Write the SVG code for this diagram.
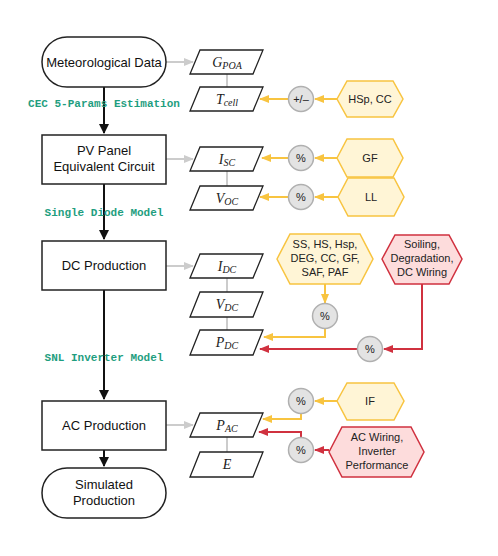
<svg xmlns="http://www.w3.org/2000/svg" width="498" height="556" viewBox="0 0 498 556">
<defs>
<style>
.node{fill:#fff;stroke:#222;stroke-width:1.5}
.t{font-family:"Liberation Sans",Arial,sans-serif;font-size:13px;fill:#111;text-anchor:middle}
.ht{font-family:"Liberation Sans",Arial,sans-serif;font-size:11px;fill:#222;text-anchor:middle}
.m{font-family:"Liberation Serif","Times New Roman",serif;font-style:italic;font-size:14px;fill:#222;text-anchor:middle}
.sub{font-size:10px}
.lbl{font-family:"Liberation Mono","Courier New",monospace;font-weight:bold;font-size:11px;fill:#1f9e7f;text-anchor:middle}
.para{fill:#fff;stroke:#222;stroke-width:1.3}
.yh{fill:#fff5d6;stroke:#f8c440;stroke-width:1.5}
.rh{fill:#fddcdc;stroke:#d0313f;stroke-width:1.5}
.circ{fill:#e3e3e3;stroke:#b0b0b0;stroke-width:1.5}
.ct{font-family:"Liberation Sans",Arial,sans-serif;font-size:11px;fill:#222;text-anchor:middle}
.blk{stroke:#111;stroke-width:2;fill:none}
.gry{stroke:#cccccc;stroke-width:2;fill:none}
.ylw{stroke:#f8c440;stroke-width:2;fill:none}
.red{stroke:#d0313f;stroke-width:2;fill:none}
</style>
<marker id="ab" viewBox="0 0 10 10" refX="9" refY="5" markerWidth="5" markerHeight="5" orient="auto" markerUnits="strokeWidth"><path d="M0,0 L10,5 L0,10 z" fill="#111"/></marker>
<marker id="ag" viewBox="0 0 10 10" refX="9" refY="5" markerWidth="5" markerHeight="5" orient="auto" markerUnits="strokeWidth"><path d="M0,1 L10,5 L0,9 z" fill="#cccccc"/></marker>
<marker id="ay" viewBox="0 0 10 10" refX="9" refY="5" markerWidth="5" markerHeight="5" orient="auto" markerUnits="strokeWidth"><path d="M0,1 L10,5 L0,9 z" fill="#f8c440"/></marker>
<marker id="ar" viewBox="0 0 10 10" refX="9" refY="5" markerWidth="5" markerHeight="5" orient="auto" markerUnits="strokeWidth"><path d="M0,1 L10,5 L0,9 z" fill="#d0313f"/></marker>
</defs>
<rect width="498" height="556" fill="#fff"/>

<g id="connectors">
<line class="blk" x1="104" y1="87" x2="104" y2="133" marker-end="url(#ab)"/>
<line class="blk" x1="104" y1="184" x2="104" y2="239" marker-end="url(#ab)"/>
<line class="blk" x1="104" y1="290" x2="104" y2="399" marker-end="url(#ab)"/>
<line class="blk" x1="104" y1="450" x2="104" y2="466" marker-end="url(#ab)"/>
<line class="gry" x1="166" y1="62" x2="193" y2="62" marker-end="url(#ag)"/>
<line class="gry" x1="166" y1="159" x2="193" y2="159" marker-end="url(#ag)"/>
<line class="gry" x1="166" y1="266" x2="193" y2="266" marker-end="url(#ag)"/>
<line class="gry" x1="166" y1="425" x2="193" y2="425" marker-end="url(#ag)"/>
<line class="gry" x1="227" y1="74" x2="227" y2="87"/>
<line class="gry" x1="227" y1="171" x2="227" y2="186"/>
<line class="gry" x1="227" y1="278" x2="227" y2="292"/>
<line class="gry" x1="227" y1="317" x2="227" y2="330"/>
<line class="gry" x1="227" y1="437" x2="227" y2="452"/>
<line class="ylw" x1="337" y1="99" x2="315" y2="99" marker-end="url(#ay)"/>
<line class="ylw" x1="288" y1="99" x2="260" y2="99" marker-end="url(#ay)"/>
<line class="ylw" x1="337" y1="158" x2="315" y2="158" marker-end="url(#ay)"/>
<line class="ylw" x1="288" y1="158" x2="262" y2="158" marker-end="url(#ay)"/>
<line class="ylw" x1="338" y1="197" x2="315" y2="197" marker-end="url(#ay)"/>
<line class="ylw" x1="288" y1="197" x2="260" y2="197" marker-end="url(#ay)"/>
<line class="ylw" x1="325" y1="284" x2="325" y2="303" marker-end="url(#ay)"/>
<polyline class="ylw" points="325,329 325,337 264,337" marker-end="url(#ay)"/>
<polyline class="red" points="422,284 422,349 384,349" marker-end="url(#ar)"/>
<line class="red" x1="357" y1="349" x2="260" y2="349" marker-end="url(#ar)"/>
<line class="ylw" x1="337" y1="401" x2="315" y2="401" marker-end="url(#ay)"/>
<polyline class="ylw" points="301,413 301,419 263,419" marker-end="url(#ay)"/>
<line class="red" x1="329" y1="450" x2="315" y2="450" marker-end="url(#ar)"/>
<polyline class="red" points="301,438 301,432 259,432" marker-end="url(#ar)"/>
</g>

<text class="lbl" x="104" y="107">CEC 5-Params Estimation</text>
<text class="lbl" x="104" y="216">Single Diode Model</text>
<text class="lbl" x="104" y="361">SNL Inverter Model</text>

<g id="met"><rect class="node" x="42" y="37" width="124" height="50" rx="25"/><text class="t" x="104" y="67">Meteorological Data</text></g>
<g id="pv"><rect class="node" x="42" y="135" width="124" height="49"/><text class="t" x="104" y="155">PV Panel</text><text class="t" x="104" y="171">Equivalent Circuit</text></g>
<g id="dc"><rect class="node" x="42" y="241" width="124" height="49"/><text class="t" x="104" y="270">DC Production</text></g>
<g id="ac"><rect class="node" x="42" y="401" width="124" height="49"/><text class="t" x="104" y="430">AC Production</text></g>
<g id="sim"><rect class="node" x="42" y="468" width="124" height="50" rx="25"/><text class="t" x="104" y="489">Simulated</text><text class="t" x="104" y="505">Production</text></g>

<g id="gpoa"><polygon class="para" points="200,50 263,50 253,74 190,74"/><text class="m" x="227" y="67">G<tspan class="sub" dy="2">POA</tspan></text></g>
<g id="tcell"><polygon class="para" points="200,87 263,87 253,111 190,111"/><text class="m" x="227" y="104">T<tspan class="sub" dy="2">cell</tspan></text></g>
<g id="isc"><polygon class="para" points="200,147 263,147 253,171 190,171"/><text class="m" x="227" y="164">I<tspan class="sub" dy="2">SC</tspan></text></g>
<g id="voc"><polygon class="para" points="200,186 263,186 253,210 190,210"/><text class="m" x="227" y="203">V<tspan class="sub" dy="2">OC</tspan></text></g>
<g id="idc"><polygon class="para" points="200,254 263,254 253,278 190,278"/><text class="m" x="227" y="271">I<tspan class="sub" dy="2">DC</tspan></text></g>
<g id="vdc"><polygon class="para" points="200,292 263,292 253,317 190,317"/><text class="m" x="227" y="309">V<tspan class="sub" dy="2">DC</tspan></text></g>
<g id="pdc"><polygon class="para" points="200,330 263,330 253,355 190,355"/><text class="m" x="227" y="347">P<tspan class="sub" dy="2">DC</tspan></text></g>
<g id="pac"><polygon class="para" points="200,413 263,413 253,437 190,437"/><text class="m" x="227" y="430">P<tspan class="sub" dy="2">AC</tspan></text></g>
<g id="e"><polygon class="para" points="200,452 263,452 253,477 190,477"/><text class="m" x="227" y="469">E</text></g>

<g id="c1"><circle class="circ" cx="301" cy="99" r="12.5"/><text class="ct" x="301" y="103">+/–</text></g>
<g id="c2"><circle class="circ" cx="301" cy="158" r="12.5"/><text class="ct" x="301" y="162">%</text></g>
<g id="c3"><circle class="circ" cx="301" cy="197" r="12.5"/><text class="ct" x="301" y="201">%</text></g>
<g id="c4"><circle class="circ" cx="325" cy="316" r="12.5"/><text class="ct" x="325" y="320">%</text></g>
<g id="c5"><circle class="circ" cx="370" cy="349" r="12.5"/><text class="ct" x="370" y="353">%</text></g>
<g id="c6"><circle class="circ" cx="301" cy="401" r="12.5"/><text class="ct" x="301" y="405">%</text></g>
<g id="c7"><circle class="circ" cx="301" cy="450" r="12.5"/><text class="ct" x="301" y="454">%</text></g>

<g id="hspcc"><polygon class="yh" points="337,99 347,81 393,81 403,99 393,117 347,117"/><text class="ht" x="370" y="103">HSp, CC</text></g>
<g id="gf"><polygon class="yh" points="337,158 347,139 393,139 403,158 393,177 347,177"/><text class="ht" x="370" y="162">GF</text></g>
<g id="ll"><polygon class="yh" points="338,197 348,178 394,178 404,197 394,216 348,216"/><text class="ht" x="371" y="201">LL</text></g>
<g id="ss"><polygon class="yh" points="277,259 290,234 360,234 373,259 360,284 290,284"/><text class="ht" x="325" y="248">SS, HS, Hsp,</text><text class="ht" x="325" y="262">DEG, CC, GF,</text><text class="ht" x="325" y="276">SAF, PAF</text></g>
<g id="soil"><polygon class="rh" points="382,259 395,235 449,235 462,259 449,284 395,284"/><text class="ht" x="422" y="248">Soiling,</text><text class="ht" x="422" y="262">Degradation,</text><text class="ht" x="422" y="276">DC Wiring</text></g>
<g id="if"><polygon class="yh" points="337,401 347,383 394,383 404,401 394,420 347,420"/><text class="ht" x="370" y="405">IF</text></g>
<g id="acw"><polygon class="rh" points="329,452 342,427 411,427 424,452 411,477 342,477"/><text class="ht" x="377" y="441">AC Wiring,</text><text class="ht" x="377" y="455">Inverter</text><text class="ht" x="377" y="469">Performance</text></g>
</svg>
